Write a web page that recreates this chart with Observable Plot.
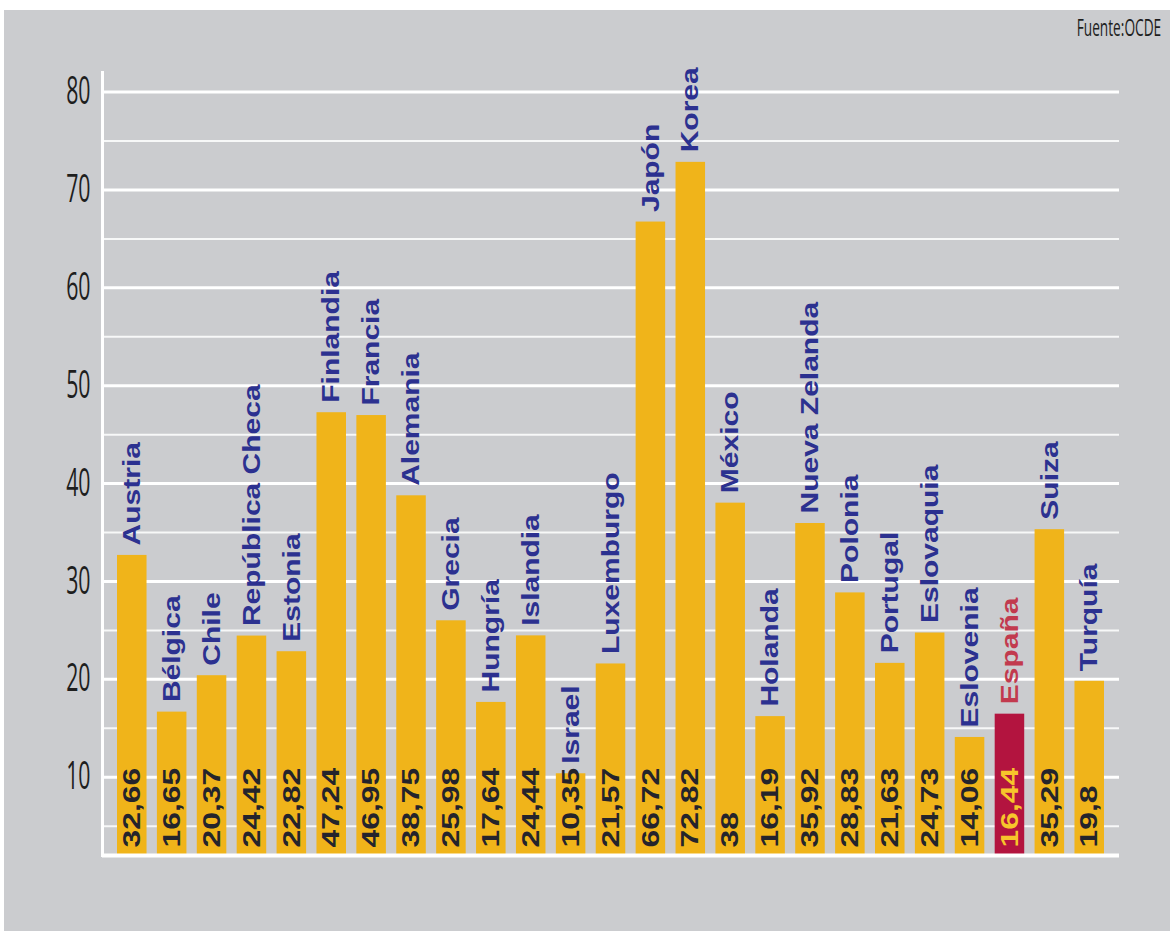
<!DOCTYPE html>
<html>
<head>
<meta charset="utf-8">
<script src="https://cdn.jsdelivr.net/npm/d3@7"></script>
<script src="https://cdn.jsdelivr.net/npm/@observablehq/plot@0.6"></script>
<style>
html, body { margin: 0; padding: 0; background: #ffffff; width: 1170px; height: 931px; overflow: hidden; }
#panel { position: absolute; left: 4px; top: 10px; width: 1166px; height: 921px; background: #cbcccf; }
#chart { position: absolute; left: 0; top: 10px; }
#source { position: absolute; right: 9px; top: 15px; font-family: "Open Sans", sans-serif; font-size: 24px; line-height: 1; color: #1e1e1e; transform: scaleX(0.57); transform-origin: right center; white-space: nowrap; }
</style>
</head>
<body>
<div id="panel"></div>
<div id="chart"></div>
<div id="source">Fuente:OCDE</div>
<script>
// ---- data ----
const countries = ["Austria", "Bélgica", "Chile", "República Checa", "Estonia", "Finlandia", "Francia", "Alemania", "Grecia", "Hungría", "Islandia", "Israel", "Luxemburgo", "Japón", "Korea", "México", "Holanda", "Nueva Zelanda", "Polonia", "Portugal", "Eslovaquia", "Eslovenia", "España", "Suiza", "Turquía"];
const values = [32.66, 16.65, 20.37, 24.42, 22.82, 47.24, 46.95, 38.75, 25.98, 17.64, 24.44, 10.35, 21.57, 66.72, 72.82, 38, 16.19, 35.92, 28.83, 21.63, 24.73, 14.06, 16.44, 35.29, 19.8];
const highlight = "España";
const yTicks = [10, 20, 30, 40, 50, 60, 70, 80];
const minorGrid = [5, 15, 25, 35, 45, 55, 65, 75];
const Y_MIN = 2;
const Y_MAX = 82;

// ---- styles ----
const BAR = "#f0b41a";
const BAR_HI = "#b3143f";
const LABEL = "#2c3190";
const LABEL_HI = "#c23a4e";
const VALUE = "#24242c";
const VALUE_HI = "#f7c52b";

const data = countries.map((c, i) => ({
  country: c,
  value: values[i],
  label: String(values[i]).replace(".", ",")
}));
const isHi = d => d.country === highlight;

const chart = Plot.plot({
  width: 1170,
  height: 921,
  marginLeft: 102,
  marginRight: 51,
  marginTop: 62,
  marginBottom: 76,
  style: { background: "transparent", color: "#1e1e1e", overflow: "visible" },
  x: { domain: countries, paddingInner: 0.26, paddingOuter: 0.376, round: false, axis: null },
  y: { domain: [Y_MIN, Y_MAX], axis: null },
  color: { type: "identity" },
  marks: [
    Plot.ruleY(minorGrid, { stroke: "white", strokeWidth: 2, strokeOpacity: 0.85 }),
    Plot.ruleY(yTicks, { stroke: "white", strokeWidth: 3 }),
    Plot.barY(data, { x: "country", y1: Y_MIN, y2: "value", fill: d => isHi(d) ? BAR_HI : BAR }),
    Plot.ruleY([Y_MIN], { stroke: "white", strokeWidth: 4 }),
    Plot.frame({ anchor: "left", stroke: "white", strokeWidth: 3 }),
    Plot.axisY({ ticks: yTicks, tickSize: 0, tickPadding: 12, label: null, anchor: "left" }),
    Plot.text(data, {
      x: "country", y: "value", text: "country", rotate: -90, textAnchor: "start", dy: -10,
      fontSize: 24, fontWeight: "bold", fontFamily: "Liberation Sans, Arial, sans-serif",
      fill: d => isHi(d) ? LABEL_HI : LABEL
    }),
    Plot.text(data, {
      x: "country", y: Y_MIN, text: "label", rotate: -90, textAnchor: "start", dy: -8,
      fontSize: 24, fontWeight: "bold", fontFamily: "Liberation Sans, Arial, sans-serif",
      fill: d => isHi(d) ? VALUE_HI : VALUE
    })
  ]
});

// stretch text to match the reference's proportions
function appendScale(el, sx, sy) {
  let t = el.getAttribute("transform");
  if (!t) {
    const x = el.getAttribute("x") || 0, y = el.getAttribute("y") || 0;
    t = `translate(${x},${y})`;
    el.removeAttribute("x"); el.removeAttribute("y");
  }
  el.setAttribute("transform", `${t} scale(${sx},${sy})`);
}
d3.select(chart).selectAll("text").each(function () {
  const t = this.getAttribute("transform") || "";
  if (t.includes("rotate(-90)")) {
    const numeric = /^[\d,]+$/.test(this.textContent.trim());
    appendScale(this, numeric ? 1.33 : 1.25, 1);
  }
});
d3.select(chart).selectAll('g[aria-label="y-axis tick label"]')
  .style("font-size", "38px")
  .style("font-family", "'Open Sans', sans-serif");
d3.select(chart).selectAll('g[aria-label="y-axis tick label"] text').each(function () {
  this.style.fontSize = "38px";
  appendScale(this, 0.56, 1);
});

document.getElementById("chart").appendChild(chart);
</script>
</body>
</html>
